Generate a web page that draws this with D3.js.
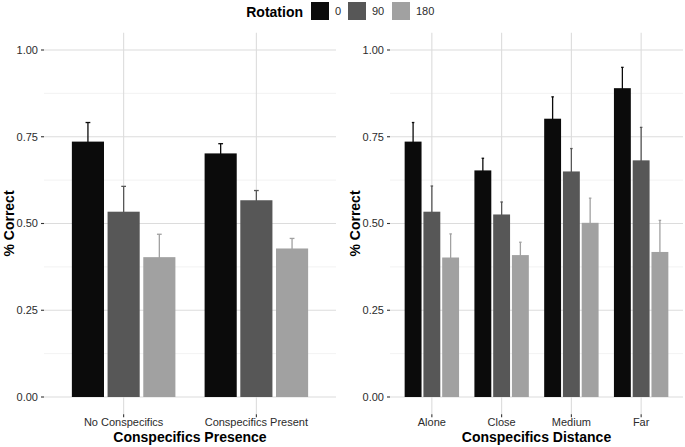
<!DOCTYPE html>
<html>
<head>
<meta charset="utf-8">
<script src="https://cdnjs.cloudflare.com/ajax/libs/d3/7.8.5/d3.min.js"></script>
<style>
  body { margin: 0; background: #fff; }
  text { font-family: "Liberation Sans", Arial, sans-serif; }
  .tick-label { font-size: 11px; fill: #2b2b2b; }
  .axis-title { font-size: 14px; font-weight: bold; fill: #000; }
</style>
</head>
<body>
<div id="chart"></div>
<script>
var rotations = ["0", "90", "180"];
var rotationColors = ["#0b0b0b", "#575757", "#a1a1a1"];
var yTicks = [0, 0.25, 0.5, 0.75, 1];
var yMinor = [0.125, 0.375, 0.625, 0.875];

// Conspecifics Presence panel
var presenceCats = ["No Conspecifics", "Conspecifics Present"];
var presenceMean = [[0.736, 0.534, 0.403], [0.702, 0.567, 0.428]];
var presenceUpper = [[0.791, 0.607, 0.469], [0.730, 0.595, 0.457]];

// Conspecifics Distance panel
var distanceCats = ["Alone", "Close", "Medium", "Far"];
var distanceMean = [[0.736, 0.534, 0.402], [0.653, 0.526, 0.409], [0.802, 0.650, 0.502], [0.890, 0.682, 0.418]];
var distanceUpper = [[0.791, 0.608, 0.470], [0.688, 0.562, 0.446], [0.865, 0.716, 0.573], [0.950, 0.777, 0.509]];

var width = 685, height = 447;

var svg = d3.select("#chart").append("svg")
    .attr("width", width)
    .attr("height", height);

var y = d3.scaleLinear().domain([0, 1]).range([397, 50]);
var yTop = y(1.05), yBot = y(-0.05);

function panel(x0, x1, cats, means, uppers, xTitle) {
  var g = svg.append("g");

  var x = d3.scalePoint().domain(cats).range([x0, x1]).padding(0.6);
  var step = x.step();
  var inner = d3.scaleBand().domain(rotations)
      .range([-0.39 * step, 0.39 * step]).paddingInner(0.1);

  // grid
  g.selectAll(".minor").data(yMinor).enter().append("line")
    .attr("x1", x0).attr("x2", x1)
    .attr("y1", function(d) { return y(d); }).attr("y2", function(d) { return y(d); })
    .attr("stroke", "#ececec").attr("stroke-width", 0.7);
  g.selectAll(".major").data(yTicks).enter().append("line")
    .attr("x1", x0).attr("x2", x1)
    .attr("y1", function(d) { return y(d); }).attr("y2", function(d) { return y(d); })
    .attr("stroke", "#dcdcdc").attr("stroke-width", 1.1);
  g.selectAll(".vgrid").data(cats).enter().append("line")
    .attr("x1", function(d) { return x(d); }).attr("x2", function(d) { return x(d); })
    .attr("y1", yTop).attr("y2", yBot)
    .attr("stroke", "#dcdcdc").attr("stroke-width", 1.1);

  // flatten data
  var rows = [];
  cats.forEach(function(c, i) {
    rotations.forEach(function(r, j) {
      rows.push({cat: c, rot: r, color: rotationColors[j], mean: means[i][j], upper: uppers[i][j]});
    });
  });

  function cx(d) { return x(d.cat) + inner(d.rot) + inner.bandwidth() / 2; }
  var cap = 0.018 * step;

  // error bars (behind the bars)
  var eb = g.selectAll(".eb").data(rows).enter().append("g")
    .attr("stroke", function(d) { return d.color; })
    .attr("stroke-width", 1.3);
  eb.append("line")
    .attr("x1", cx).attr("x2", cx)
    .attr("y1", function(d) { return y(2 * d.mean - d.upper); })
    .attr("y2", function(d) { return y(d.upper); });
  eb.append("line")
    .attr("x1", function(d) { return cx(d) - cap; })
    .attr("x2", function(d) { return cx(d) + cap; })
    .attr("y1", function(d) { return y(d.upper); })
    .attr("y2", function(d) { return y(d.upper); });

  g.selectAll(".bar").data(rows).enter().append("rect")
    .attr("x", function(d) { return x(d.cat) + inner(d.rot); })
    .attr("width", inner.bandwidth())
    .attr("y", function(d) { return y(d.mean); })
    .attr("height", function(d) { return y(0) - y(d.mean); })
    .attr("fill", function(d) { return d.color; });

  // y axis ticks + labels
  g.selectAll(".ytick").data(yTicks).enter().append("line")
    .attr("x1", x0 - 3).attr("x2", x0)
    .attr("y1", function(d) { return y(d); }).attr("y2", function(d) { return y(d); })
    .attr("stroke", "#333").attr("stroke-width", 1.1);
  g.selectAll(".ylab").data(yTicks).enter().append("text")
    .attr("class", "tick-label")
    .attr("x", x0 - 6)
    .attr("y", function(d) { return y(d); })
    .attr("dy", "0.35em")
    .attr("text-anchor", "end")
    .text(d3.format(".2f"));

  // x axis ticks + labels
  g.selectAll(".xtick").data(cats).enter().append("line")
    .attr("x1", function(d) { return x(d); }).attr("x2", function(d) { return x(d); })
    .attr("y1", yBot).attr("y2", yBot + 3)
    .attr("stroke", "#333").attr("stroke-width", 1.1);
  g.selectAll(".xlab").data(cats).enter().append("text")
    .attr("class", "tick-label")
    .attr("x", function(d) { return x(d); })
    .attr("y", 426)
    .attr("text-anchor", "middle")
    .text(function(d) { return d; });

  g.append("text")
    .attr("class", "axis-title")
    .attr("x", (x0 + x1) / 2)
    .attr("y", 442)
    .attr("text-anchor", "middle")
    .text(xTitle);

  g.append("text")
    .attr("class", "axis-title")
    .attr("transform", "translate(" + (x0 - 30) + "," + ((yTop + yBot) / 2) + ") rotate(-90)")
    .attr("text-anchor", "middle")
    .text("% Correct");
}

panel(44, 336, presenceCats, presenceMean, presenceUpper, "Conspecifics Presence");
panel(390, 683, distanceCats, distanceMean, distanceUpper, "Conspecifics Distance");

// legend
var legend = svg.append("g");
legend.append("text")
  .attr("x", 303).attr("y", 16.5)
  .attr("text-anchor", "end")
  .style("font-size", "14px").style("font-weight", "bold")
  .text("Rotation");
var keyX = [311, 348, 392];
var lg = legend.selectAll(".key").data(rotations).enter().append("g")
  .attr("transform", function(d, i) { return "translate(" + keyX[i] + ",2)"; });
lg.append("rect")
  .attr("width", 18).attr("height", 18)
  .attr("fill", function(d, i) { return rotationColors[i]; });
lg.append("text")
  .attr("class", "tick-label")
  .attr("x", 24).attr("y", 9).attr("dy", "0.35em")
  .text(function(d) { return d; });
</script>
</body>
</html>
